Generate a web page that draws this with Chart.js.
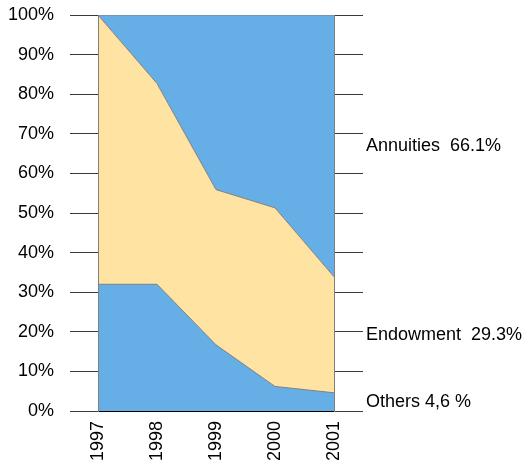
<!DOCTYPE html>
<html>
<head>
<meta charset="utf-8">
<script src="https://cdn.jsdelivr.net/npm/chart.js@4/dist/chart.umd.min.js"></script>
<style>
  html, body { margin: 0; padding: 0; background: #fff; }
  #wrap { width: 528px; height: 472px; }
</style>
</head>
<body>
<div id="wrap"><canvas id="c" width="528" height="472"></canvas></div>
<script>
const years = ['1997', '1998', '1999', '2000', '2001'];
const others = [32, 32, 16.7, 6.2, 4.6];
const endowment = [68, 50.7, 39.2, 45.1, 29.3];
const annuities = [0, 17.3, 44.1, 48.7, 66.1];
const yTickValues = [0, 10, 20, 30, 40, 50, 60, 70, 80, 90, 100];
const seriesLabels = ['Others 4,6 %', 'Endowment  29.3%', 'Annuities  66.1%'];

const BLUE = '#66aee6';
const YELLOW = '#ffe3a3';
const EDGE = '#808080';
const TICK = '#3a3a3a';
const FONT = { family: '"Liberation Sans", Arial, sans-serif', size: 18 };

// label positions: middle of each band at the last category
const last = years.length - 1;
const labelValues = [
  others[last] / 2,
  others[last] + endowment[last] / 2,
  others[last] + endowment[last] + annuities[last] / 2
];

const ds = (label, data, color, fill) => ({
  label, data, fill,
  backgroundColor: color,
  borderColor: EDGE,
  borderWidth: 1,
  pointRadius: 0,
  tension: 0
});

const fixV = w => s => { s.width = w; s.paddingTop = 0; s.paddingBottom = 0; };

new Chart(document.getElementById('c'), {
  type: 'line',
  data: {
    labels: years,
    datasets: [
      ds('Others', others, BLUE, 'origin'),
      ds('Endowment', endowment, YELLOW, '-1'),
      ds('Annuities', annuities, BLUE, '-1')
    ]
  },
  options: {
    responsive: false,
    animation: false,
    layout: { padding: { left: 0, right: 0, top: 15, bottom: 0 } },
    plugins: { legend: { display: false }, tooltip: { enabled: false } },
    scales: {
      x: {
        offset: false,
        grid: { display: false, drawTicks: false },
        border: { display: true, color: '#000', width: 1, z: 1 },
        ticks: { color: '#000', font: FONT, minRotation: 90, maxRotation: 90, autoSkip: false, padding: 10 },
        afterFit: s => { s.height = 61; s.paddingLeft = 0; s.paddingRight = 0; }
      },
      y: {
        stacked: true,
        min: 0, max: 100,
        position: 'left',
        afterBuildTicks: s => { s.ticks = yTickValues.map(v => ({ value: v })); },
        grid: { drawOnChartArea: false, drawTicks: true, tickLength: 28, color: TICK },
        border: { display: true, color: EDGE, width: 1, z: 1 },
        ticks: { color: '#000', font: FONT, padding: 16, callback: v => v + '%' },
        afterFit: fixV(98)
      },
      yR: {
        type: 'linear',
        min: 0, max: 100,
        position: 'right',
        weight: 0,
        afterBuildTicks: s => { s.ticks = yTickValues.map(v => ({ value: v })); },
        grid: { drawOnChartArea: false, drawTicks: true, tickLength: 29, color: TICK },
        border: { display: true, color: EDGE, width: 1, z: 1 },
        ticks: { display: false },
        afterFit: fixV(29)
      },
      yL: {
        type: 'linear',
        min: 0, max: 100,
        position: 'right',
        weight: 1,
        afterBuildTicks: s => { s.ticks = labelValues.map(v => ({ value: v })); },
        grid: { display: false, drawTicks: false },
        border: { display: false },
        ticks: {
          color: '#000', font: FONT, padding: 3, autoSkip: false,
          callback: (v, i) => seriesLabels[i]
        },
        afterFit: fixV(165)
      }
    }
  }
});
</script>
</body>
</html>
